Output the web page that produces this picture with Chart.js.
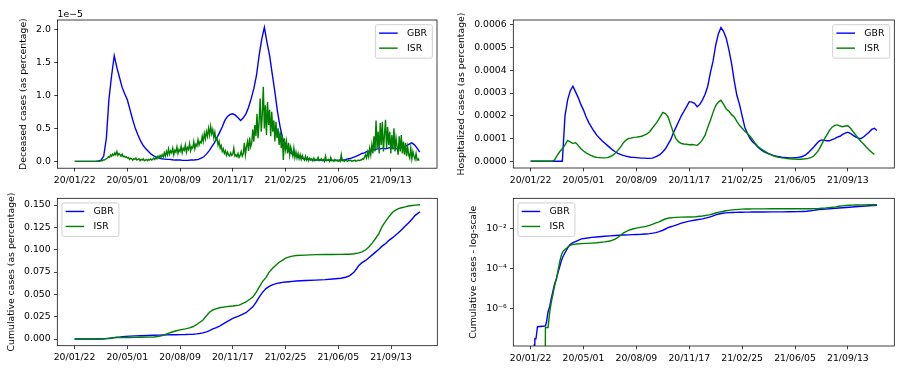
<!DOCTYPE html>
<html>
<head>
<meta charset="utf-8">
<script src="https://cdn.jsdelivr.net/npm/chart.js@4.4.1/dist/chart.umd.min.js"></script>
<style>
  html, body { margin: 0; padding: 0; background: #fff; }
  #fig { position: relative; width: 901px; height: 370px; overflow: hidden; }
  #fig canvas { position: absolute; }
</style>
</head>
<body>
<div id="fig">
  <canvas id="deceased" width="450" height="185" style="left:0;top:0;width:450px;height:185px"></canvas>
  <canvas id="hospitalized" width="451" height="185" style="left:450px;top:0;width:451px;height:185px"></canvas>
  <canvas id="cumulative" width="450" height="185" style="left:0;top:185px;width:450px;height:185px"></canvas>
  <canvas id="cumulativeLog" width="451" height="185" style="left:450px;top:185px;width:451px;height:185px"></canvas>
</div>
<script>
// x axis: days since 2020-01-22
const tickDays = [0, 100, 200, 300, 400, 500, 600];
const tickLabels = ['20/01/22', '20/05/01', '20/08/09', '20/11/17', '21/02/25', '21/06/05', '21/09/13'];
const countries = ['GBR', 'ISR'];
const lineColors = ['#0000ff', '#008000'];

// deceased (units of 1e-5), GBR sampled every 5 days, ISR every 2 days
const deceasedStepGBR = 5;
const deceasedGBR = [
  0, 0, 0, 0, 0, 0, 0, 0, 0, 0.005,
  0.02, 0.08, 0.35, 0.95, 1.3, 1.6, 1.42, 1.27, 1.12, 1.02,
  0.93, 0.78, 0.63, 0.5, 0.4, 0.31, 0.24, 0.19, 0.15, 0.11,
  0.085, 0.065, 0.05, 0.04, 0.035, 0.03, 0.03, 0.025, 0.02, 0.02,
  0.02, 0.015, 0.015, 0.015, 0.02, 0.02, 0.025, 0.03, 0.05, 0.07,
  0.11, 0.16, 0.22, 0.28, 0.36, 0.44, 0.52, 0.62, 0.68, 0.71,
  0.72, 0.7, 0.66, 0.62, 0.66, 0.72, 0.82, 0.95, 1.1, 1.3,
  1.6, 1.85, 2.03, 1.8, 1.6, 1.32, 1.05, 0.75, 0.52, 0.34,
  0.24, 0.17, 0.13, 0.1, 0.08, 0.06, 0.05, 0.04, 0.035, 0.03,
  0.025, 0.02, 0.02, 0.02, 0.015, 0.015, 0.015, 0.015, 0.015, 0.015,
  0.015, 0.02, 0.02, 0.03, 0.04, 0.05, 0.065, 0.08, 0.1, 0.12,
  0.13, 0.15, 0.16, 0.17, 0.18, 0.19, 0.19, 0.2, 0.19, 0.2,
  0.21, 0.2, 0.19, 0.2, 0.21, 0.22, 0.24, 0.26, 0.28, 0.25,
  0.2, 0.14
];
const deceasedStepISR = 2;
const deceasedISR = [
  // days 0-50
  0, 0, 0, 0, 0, 0, 0, 0, 0, 0, 0, 0, 0, 0, 0, 0, 0, 0, 0, 0, 0, 0, 0, 0, 0.005, 0.01,
  // 52-98
  0.01, 0.02, 0.02, 0.03, 0.04, 0.05, 0.07, 0.06, 0.1, 0.08, 0.11, 0.09,
  0.13, 0.1, 0.15, 0.09, 0.12, 0.1, 0.08, 0.11, 0.07, 0.08, 0.06, 0.07,
  // 100-150
  0.05, 0.06, 0.03, 0.05, 0.04, 0.02, 0.04, 0.03, 0.05, 0.02, 0.03, 0.04, 0.01,
  0.03, 0.02, 0.04, 0.01, 0.02, 0.03, 0.01, 0.03, 0.02, 0.04, 0.02, 0.03, 0.05,
  // 152-200
  0.03, 0.06, 0.04, 0.08, 0.05, 0.09, 0.06, 0.1, 0.07, 0.13, 0.08, 0.15, 0.1,
  0.19, 0.11, 0.16, 0.13, 0.2, 0.1, 0.17, 0.14, 0.22, 0.12, 0.18, 0.15,
  // 202-250
  0.23, 0.13, 0.2, 0.17, 0.25, 0.14, 0.21, 0.18, 0.27, 0.16, 0.22, 0.2, 0.3,
  0.19, 0.26, 0.23, 0.33, 0.25, 0.3, 0.28, 0.38, 0.3, 0.42, 0.34, 0.45,
  // 252-300
  0.38, 0.5, 0.4, 0.53, 0.42, 0.48, 0.36, 0.44, 0.32, 0.35, 0.25, 0.3, 0.2,
  0.24, 0.15, 0.19, 0.12, 0.16, 0.09, 0.14, 0.1, 0.08, 0.13, 0.09, 0.11,
  // 302-350
  0.2, 0.08, 0.1, 0.07, 0.12, 0.06, 0.09, 0.15, 0.08, 0.12, 0.28, 0.1, 0.22,
  0.3, 0.16, 0.36, 0.22, 0.28, 0.48, 0.3, 0.55, 0.38, 0.72, 0.35, 0.6,
  // 352-400
  0.95, 0.45, 0.7, 1.13, 0.5, 0.85, 0.4, 0.9, 0.55, 0.78, 0.38, 0.75, 0.45,
  0.62, 0.3, 0.6, 0.35, 0.5, 0.25, 0.45, 0.2, 0.4, 0.02, 0.35, 0.18,
  // 402-450
  0.3, 0.12, 0.28, 0.1, 0.22, 0.15, 0.08, 0.2, 0.06, 0.14, 0.05, 0.12, 0.04,
  0.1, 0.03, 0.09, 0.05, 0.02, 0.08, 0.02, 0.06, 0.01, 0.05, 0.02, 0.04,
  // 452-500
  0.01, 0.05, 0.01, 0.03, 0.02, 0.06, 0.01, 0.02, 0.04, 0.01, 0.03, 0.0, 0.08,
  0.01, 0.02, 0.03, 0.0, 0.06, 0.01, 0.02, 0.0, 0.03, 0.01, 0.02, 0.0,
  // 502-550
  0.02, 0.0, 0.1, 0.01, 0.02, 0.0, 0.02, 0.01, 0.0, 0.02, 0.01, 0.02, 0.0,
  0.01, 0.01, 0.02, 0.0, 0.01, 0.02, 0.01, 0.02, 0.02, 0.04, 0.03, 0.06,
  // 552-600
  0.1, 0.05, 0.14, 0.07, 0.2, 0.1, 0.25, 0.12, 0.38, 0.15, 0.62, 0.2, 0.45,
  0.12, 0.58, 0.25, 0.6, 0.15, 0.4, 0.63, 0.2, 0.52, 0.25, 0.45, 0.12,
  // 602-654
  0.4, 0.18, 0.5, 0.15, 0.35, 0.22, 0.1, 0.38, 0.15, 0.4, 0.12, 0.3, 0.1, 0.28,
  0.08, 0.22, 0.1, 0.05, 0.2, 0.04, 0.15, 0.08, 0.03, 0.12, 0.02, 0.04, 0.01
];

// hospitalized (units of 1e-4), every 5 days
const hospStep = 5;
const hospGBR = [
  0, 0, 0, 0, 0, 0, 0, 0, 0, 0,
  0, 0, 0, 2.0, 2.7, 3.1, 3.3, 3.05, 2.8, 2.5,
  2.25, 1.95, 1.7, 1.5, 1.32, 1.15, 1.02, 0.9, 0.8, 0.7,
  0.6, 0.5, 0.42, 0.35, 0.3, 0.26, 0.23, 0.2, 0.18, 0.17,
  0.16, 0.15, 0.14, 0.14, 0.13, 0.13, 0.14, 0.18, 0.24, 0.3,
  0.42, 0.55, 0.75, 0.95, 1.25, 1.5, 1.75, 2.0, 2.2, 2.4,
  2.62, 2.6, 2.55, 2.4, 2.5, 2.7, 2.95, 3.3, 3.9, 4.4,
  5.1, 5.6, 5.88, 5.7, 5.4, 4.9, 4.3, 3.55, 2.9, 2.5,
  2.0, 1.5, 1.22, 1.0, 0.85, 0.75, 0.62, 0.52, 0.44, 0.38,
  0.33, 0.29, 0.25, 0.22, 0.2, 0.18, 0.17, 0.16, 0.15, 0.15,
  0.16, 0.17, 0.19, 0.22, 0.28, 0.38, 0.5, 0.62, 0.75, 0.88,
  0.94, 0.92, 0.9, 0.9, 0.95, 1.0, 1.06, 1.1, 1.18, 1.24,
  1.28, 1.22, 1.14, 1.06, 1.02, 1.0, 1.08, 1.18, 1.28, 1.4,
  1.45, 1.35
];
const hospISR = [
  0, 0, 0, 0, 0, 0, 0, 0, 0, 0.05,
  0.25, 0.42, 0.55, 0.72, 0.92, 0.85, 0.78, 0.82, 0.7, 0.55,
  0.45, 0.37, 0.3, 0.25, 0.2, 0.17, 0.16, 0.15, 0.15, 0.16,
  0.2, 0.26, 0.35, 0.48, 0.62, 0.8, 0.92, 1.0, 1.02, 1.05,
  1.06, 1.08, 1.1, 1.15, 1.2, 1.3, 1.45, 1.6, 1.75, 1.95,
  2.15, 2.1, 1.95, 1.6, 1.25, 0.98, 0.85, 0.78, 0.76, 0.75,
  0.73, 0.74, 0.72, 0.7, 0.8, 0.95, 1.15, 1.5, 1.8, 2.15,
  2.45, 2.6, 2.68, 2.5, 2.3, 2.2, 2.05, 1.95, 1.75, 1.58,
  1.45, 1.32, 1.22, 1.1, 0.95, 0.78, 0.65, 0.56, 0.48, 0.41,
  0.34, 0.28, 0.23, 0.2, 0.17, 0.15, 0.14, 0.12, 0.11, 0.1,
  0.1, 0.09, 0.09, 0.1, 0.11, 0.13, 0.16, 0.22, 0.35, 0.5,
  0.72, 0.95, 1.15, 1.35, 1.5, 1.58, 1.6, 1.55, 1.52, 1.55,
  1.56, 1.45, 1.3, 1.15, 1.0, 0.87, 0.75, 0.62, 0.5, 0.4,
  0.3
];

// cumulative cases (fraction), irregular day samples
const cumDays = [
  0, 6, 7, 8, 10, 11, 12, 13, 27, 28,
  30, 33, 36, 39, 42, 45, 49, 52,
  55, 58, 61, 65, 68, 71, 74, 80, 87, 96,
  105, 115, 125, 140, 150, 160, 168, 175, 185, 193,
  200, 210, 218, 225, 231, 237, 243, 250, 256, 262,
  269, 275, 285, 300, 312, 325, 338, 344, 350, 356,
  363, 369, 375, 382, 388, 394, 400, 407, 413, 420,
  438, 457, 475, 489, 505, 514, 522, 530, 535, 539,
  545, 552, 558, 565, 570, 577, 583, 590, 596, 603,
  608, 614, 620, 627, 633, 640, 646, 655
];
const cumGBR = [
  0, 0, 1.5e-8, 3e-8, 3e-8, 4.5e-8, 4.5e-8, 1.2e-7, 1.3e-7, 1.35e-7,
  2e-7, 6.7e-7, 1.2e-6, 3e-6, 6.8e-6, 1.5e-5, 3.2e-5, 6.5e-5,
  1.2e-4, 2.3e-4, 3.8e-4, 6e-4, 8.3e-4, 1.15e-3, 1.5e-3, 1.9e-3, 2.3e-3, 2.95e-3,
  3.2e-3, 3.5e-3, 3.7e-3, 4.0e-3, 4.2e-3, 4.4e-3, 4.5e-3, 4.6e-3, 4.7e-3, 4.8e-3,
  4.9e-3, 5.0e-3, 5.2e-3, 5.4e-3, 5.7e-3, 6.1e-3, 6.8e-3, 8.0e-3, 9.5e-3, 0.0113,
  0.0128, 0.0145, 0.018, 0.023, 0.026, 0.0295, 0.036, 0.041, 0.047, 0.052,
  0.0565, 0.059, 0.0607, 0.062, 0.0628, 0.0634, 0.0638, 0.0642, 0.0646, 0.065,
  0.0656, 0.066, 0.0665, 0.0672, 0.068, 0.0692, 0.071, 0.075, 0.079, 0.0825,
  0.0855, 0.088, 0.091, 0.0945, 0.097, 0.1005, 0.104, 0.107, 0.1105, 0.1135,
  0.116, 0.119, 0.1225, 0.1265, 0.13, 0.1345, 0.1385, 0.1425
];
const cumISR = [
  0, 0, 0, 0, 0, 0, 0, 0, 0, 1.1e-7,
  1.1e-7, 1.1e-7, 6e-7, 2e-6, 4.7e-6, 1.2e-5, 3.2e-5, 8e-5,
  2.1e-4, 4.5e-4, 6.8e-4, 9e-4, 1.0e-3, 1.2e-3, 1.35e-3, 1.58e-3, 1.65e-3, 1.72e-3,
  1.76e-3, 1.82e-3, 1.9e-3, 2.1e-3, 2.3e-3, 2.9e-3, 4.0e-3, 5.8e-3, 7.8e-3, 9.2e-3,
  0.0102, 0.0114, 0.0125, 0.014, 0.016, 0.0185, 0.021, 0.026, 0.03, 0.0325,
  0.034, 0.035, 0.036, 0.037, 0.038, 0.0415, 0.047, 0.052, 0.058, 0.064,
  0.069, 0.075, 0.079, 0.083, 0.086, 0.088, 0.0905, 0.092, 0.0928, 0.0935,
  0.094, 0.0945, 0.0946, 0.0947, 0.0948, 0.095, 0.095, 0.0955, 0.096, 0.0965,
  0.0975, 0.1, 0.103, 0.108, 0.112, 0.118, 0.126, 0.132, 0.137, 0.142,
  0.144, 0.146, 0.147, 0.148, 0.149, 0.1495, 0.15, 0.1503
];
// matplotlib clips non-positive values on a log axis to a tiny number
const logFloor = 1e-12;

const FS = 9.3;
const FONT = FS + 'px "DejaVu Sans"';
const TICK_LEN = 3.3;
Chart.defaults.font.family = '"DejaVu Sans"';
Chart.defaults.font.size = FS;
Chart.defaults.color = '#000';

const stepPoints = (vals, step) => vals.map((v, i) => ({ x: i * step, y: v }));
const dayPoints = (vals, floor) => vals.map((v, i) => ({ x: cumDays[i], y: floor && v <= 0 ? floor : v }));

// frame, legend and offset text drawn like matplotlib
const mplFrame = {
  id: 'mplFrame',
  afterDraw(chart, args, opts) {
    const { ctx, chartArea: a } = chart;
    ctx.save();
    ctx.strokeStyle = '#000';
    ctx.lineWidth = 0.75;
    ctx.strokeRect(a.left, a.top, a.right - a.left, a.bottom - a.top);

    ctx.font = FONT;
    ctx.fillStyle = '#000';
    if (opts.offsetText) {
      ctx.textAlign = 'left';
      ctx.textBaseline = 'alphabetic';
      ctx.fillText(opts.offsetText, a.left, a.top - 3);
    }

    const items = chart.data.datasets.map(d => ({ label: d.label, color: d.borderColor }));
    const textW = Math.max(...items.map(it => ctx.measureText(it.label).width));
    const w = 3.4 * FS + textW + 5.3;
    const h = 8.5 + 15 * (items.length - 1) + 10;
    const x0 = opts.loc === 'upper left' ? a.left + 4.65 : a.right - 4.65 - w;
    const y0 = a.top + 4.65;
    ctx.beginPath();
    ctx.roundRect(x0, y0, w, h, 2);
    ctx.fillStyle = 'rgba(255,255,255,0.8)';
    ctx.fill();
    ctx.strokeStyle = '#cccccc';
    ctx.lineWidth = 0.9;
    ctx.stroke();
    items.forEach((it, i) => {
      const cy = y0 + 8.5 + 15 * i;
      ctx.beginPath();
      ctx.moveTo(x0 + 0.4 * FS, cy);
      ctx.lineTo(x0 + 2.4 * FS, cy);
      ctx.strokeStyle = it.color;
      ctx.lineWidth = 1.4;
      ctx.stroke();
      ctx.fillStyle = '#000';
      ctx.textAlign = 'left';
      ctx.textBaseline = 'middle';
      ctx.fillText(it.label, x0 + 3.4 * FS, cy + 0.5);
    });
    ctx.restore();
  }
};

function makeChart(id, geo, datasets, yScale, frameOpts) {
  const axisGrid = { display: true, drawOnChartArea: false, drawTicks: true, tickLength: TICK_LEN, tickColor: '#000', tickWidth: 0.75 };
  return new Chart(document.getElementById(id), {
    type: 'line',
    data: {
      datasets: datasets.map((d, i) => ({
        label: countries[i],
        data: d,
        borderColor: lineColors[i],
        borderWidth: 1.4,
        pointRadius: 0,
        tension: 0,
        fill: false,
        order: countries.length - i
      }))
    },
    options: {
      responsive: false,
      animation: false,
      events: [],
      layout: { padding: { top: geo.top, right: geo.right, left: 0, bottom: 0 } },
      plugins: { legend: { display: false }, tooltip: { enabled: false }, mplFrame: frameOpts },
      scales: {
        x: {
          type: 'linear',
          min: -32.75,
          max: 687.75,
          bounds: 'data',
          afterFit: s => { s.height = geo.xh; },
          afterBuildTicks: s => { s.ticks = tickDays.map(v => ({ value: v })); },
          ticks: { callback: v => tickLabels[tickDays.indexOf(v)], padding: TICK_LEN, maxRotation: 0, autoSkip: false },
          grid: axisGrid,
          border: { display: false }
        },
        y: Object.assign({
          bounds: 'data',
          afterFit: s => { s.width = geo.yw; },
          grid: axisGrid,
          border: { display: false },
          title: { display: true, text: geo.title, padding: { top: geo.titlePad, bottom: 0 } }
        }, yScale, {
          ticks: Object.assign({ padding: TICK_LEN, autoSkip: false }, yScale.ticks)
        })
      }
    },
    plugins: [mplFrame]
  });
}

makeChart('deceased',
  { top: 20, right: 13, xh: 16.8, yw: 57.5, title: 'Deceased cases (as percentage)', titlePad: 18.4 },
  [stepPoints(deceasedGBR, deceasedStepGBR), stepPoints(deceasedISR, deceasedStepISR)],
  {
    type: 'linear', min: -0.103, max: 2.14,
    afterBuildTicks: s => { s.ticks = [0, 0.5, 1, 1.5, 2].map(v => ({ value: v })); },
    ticks: { callback: v => v.toFixed(1) }
  },
  { loc: 'upper right', offsetText: '1e\u22125' });

makeChart('hospitalized',
  { top: 20, right: 6.7, xh: 17, yw: 63.3, title: 'Hospitalized cases (as percentage)', titlePad: 5.9 },
  [stepPoints(hospGBR, hospStep), stepPoints(hospISR, hospStep)],
  {
    type: 'linear', min: -0.295, max: 6.21,
    afterBuildTicks: s => { s.ticks = [0, 1, 2, 3, 4, 5, 6].map(v => ({ value: v })); },
    ticks: { callback: v => (v * 1e-4).toFixed(4) }
  },
  { loc: 'upper right' });

makeChart('cumulative',
  { top: 13.3, right: 12.7, xh: 24.3, yw: 57.3, title: 'Cumulative cases (as percentage)', titlePad: 6.1 },
  [dayPoints(cumGBR), dayPoints(cumISR)],
  {
    type: 'linear', min: -0.0075, max: 0.1576,
    afterBuildTicks: s => { s.ticks = [0, 0.025, 0.05, 0.075, 0.1, 0.125, 0.15].map(v => ({ value: v })); },
    ticks: { callback: v => v.toFixed(3) }
  },
  { loc: 'upper left' });

const superDigits = { '-': '\u207b', '0': '\u2070', '1': '\u00b9', '2': '\u00b2', '3': '\u00b3', '4': '\u2074', '5': '\u2075', '6': '\u2076', '7': '\u2077', '8': '\u2078', '9': '\u2079' };
makeChart('cumulativeLog',
  { top: 13.3, right: 6.7, xh: 24, yw: 63.3, title: 'Cumulative cases - log-scale', titlePad: 17.7 },
  [dayPoints(cumGBR, logFloor), dayPoints(cumISR, logFloor)],
  {
    type: 'logarithmic', min: Math.pow(10, -7.885), max: Math.pow(10, -0.5),
    afterBuildTicks: s => { s.ticks = [1e-6, 1e-4, 1e-2].map(v => ({ value: v })); },
    ticks: { callback: v => '10' + String(Math.round(Math.log10(v))).split('').map(c => superDigits[c]).join('') }
  },
  { loc: 'upper left' });
</script>
</body>
</html>
